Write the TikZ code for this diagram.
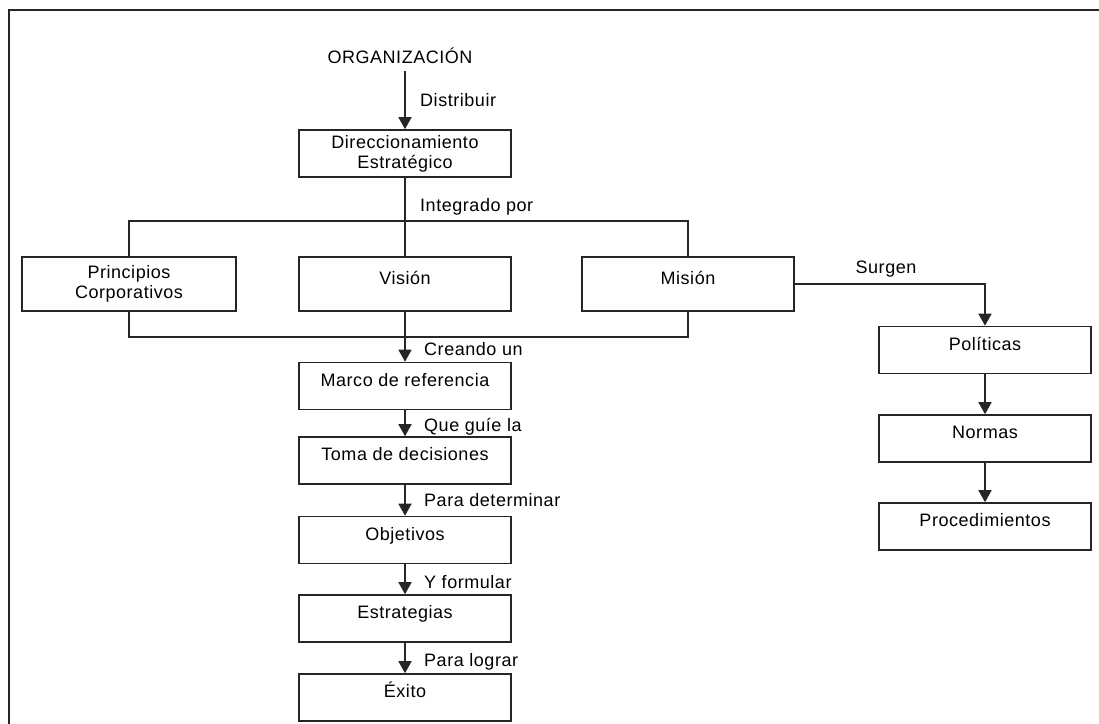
\documentclass[tikz,border=0pt]{standalone}
\usepackage{fontspec}
\setmainfont{Liberation Sans}[LetterSpace=3]
\usetikzlibrary{arrows.meta}
\begin{document}
\begin{tikzpicture}[x=1pt,y=-1pt,
  every node/.style={font=\fontsize{18}{20}\selectfont, inner sep=0pt},
  frame/.style={draw=black!85, line width=1.6pt, minimum width=212pt, minimum height=47pt},
  box/.style={frame, text height=9pt, text depth=9pt},
  box2/.style={frame, align=center},
  link/.style={line width=1.6pt, draw=black!85},
  arr/.style={link, -{Triangle[length=12pt,width=13pt]}},
  tag/.style={anchor=base west},
]
% page and outer frame
\fill[white] (0,0) rectangle (1099,723);
\clip (0,0) rectangle (1099,723);
\draw[link] (9,10) rectangle (1120,745);

% top of the chart
\node[anchor=base] (org) at (400,63) {ORGANIZACIÓN};
\node[box2] (dir) at (405,153.5) {Direccionamiento\\Estratégico};

% the three components
\node[box2, minimum width=214pt, minimum height=54pt] (pri) at (129,284) {Principios\\Corporativos};
\node[box, minimum height=54pt] (vis) at (405,284) {Visión};
\node[box, minimum height=54pt] (mis) at (688,284) {Misión};

% main column
\node[box] (mar) at (405,386) {Marco de referencia};
\node[box] (tom) at (405,460.5) {Toma de decisiones};
\node[box] (obj) at (405,540) {Objetivos};
\node[box] (est) at (405,618.5) {Estrategias};
\node[box] (exi) at (405,697.5) {Éxito};

% right column
\node[box] (pol) at (985,350) {Políticas};
\node[box] (nor) at (985,438.5) {Normas};
\node[box] (pro) at (985,526.5) {Procedimientos};

% connectors
\draw[arr, shorten <=8pt] (org.south -| dir.north) -- (dir.north);
\draw[link] (dir.south) -- (vis.north);
\draw[link] (pri.north) -- ++(0,-35) -| (mis.north);
\draw[link] (pri.south) -- ++(0,25) -| (mis.south);
\draw[arr] (vis.south) -- (mar.north);
\draw[arr] (mar.south) -- (tom.north);
\draw[arr] (tom.south) -- (obj.north);
\draw[arr] (obj.south) -- (est.north);
\draw[arr] (est.south) -- (exi.north);
\draw[arr] (mis.east) -| (pol.north);
\draw[arr] (pol.south) -- (nor.north);
\draw[arr] (nor.south) -- (pro.north);

% connector labels
\node[tag] (l1) at (420,106) {Distribuir};
\node[tag] (l2) at (420,211) {Integrado por};
\node[tag] (l3) at (424,355) {Creando un};
\node[tag] (l4) at (424,431) {Que guíe la};
\node[tag] (l5) at (424,506) {Para determinar};
\node[tag] (l6) at (424,588) {Y formular};
\node[tag] (l7) at (424,666) {Para lograr};
\node[anchor=base] (l8) at (886,273) {Surgen};
\end{tikzpicture}
\end{document}
